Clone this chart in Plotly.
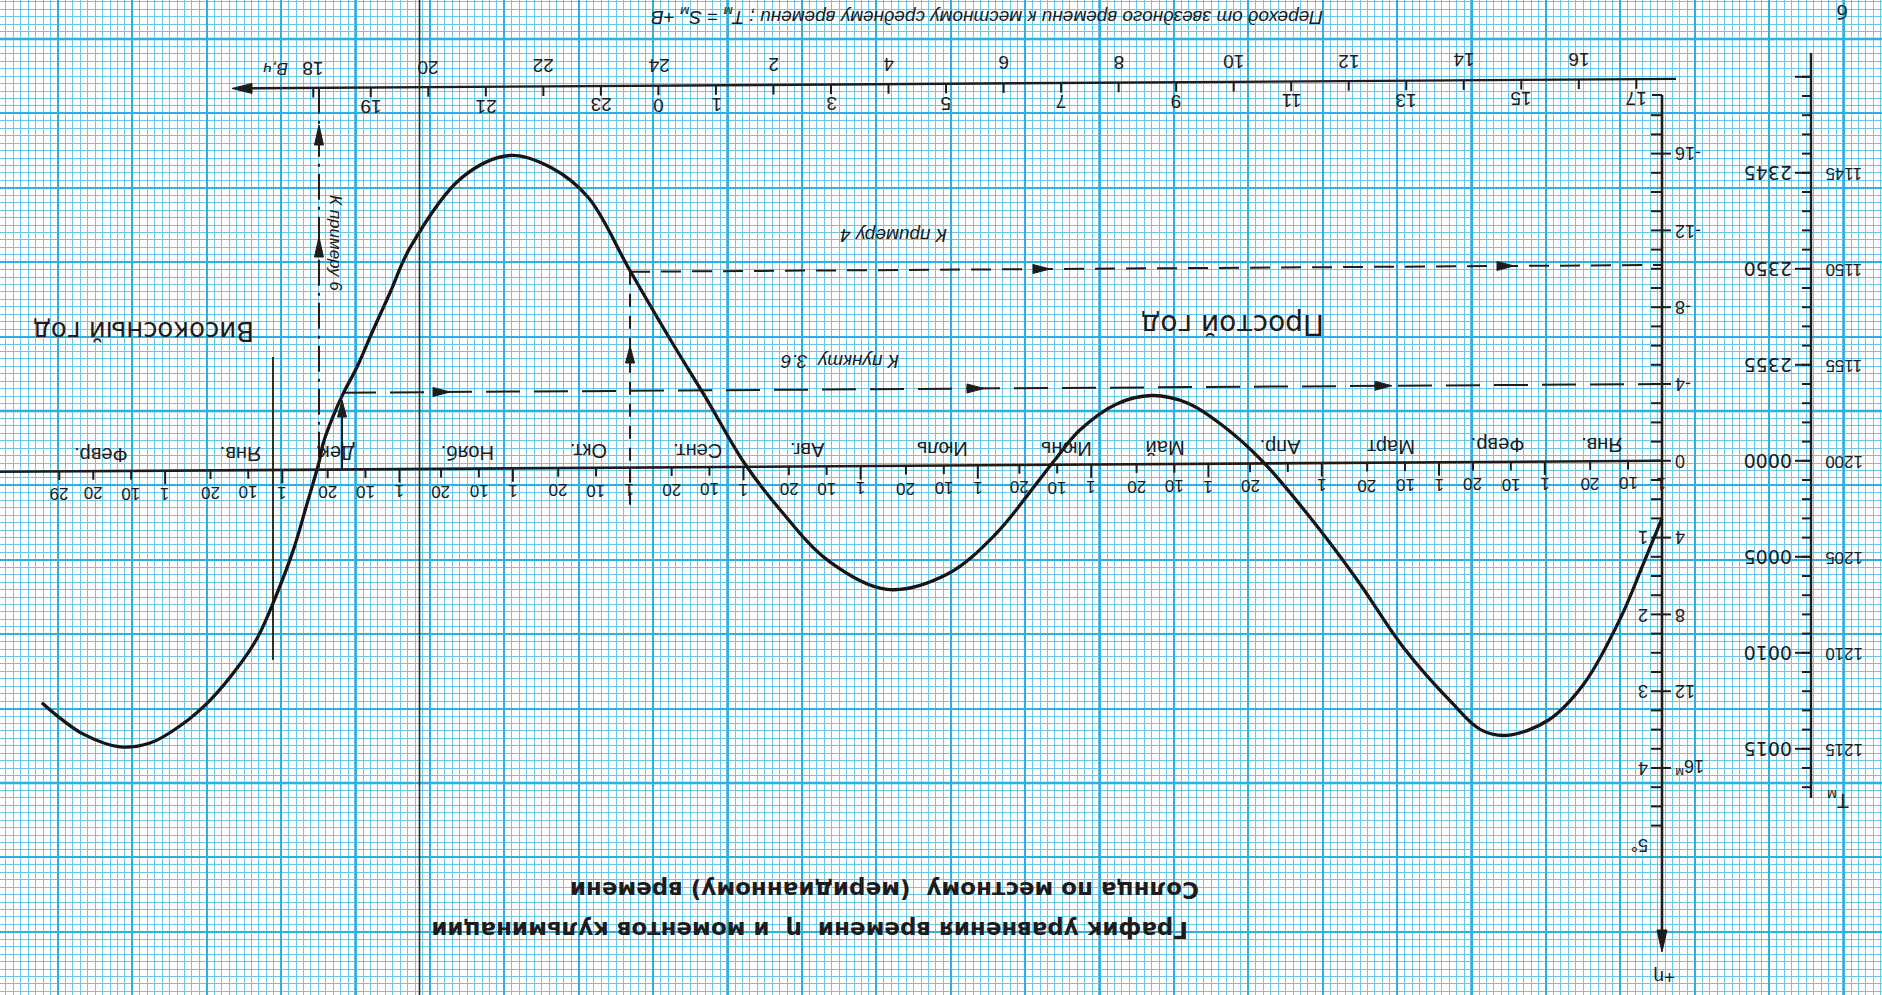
import plotly.graph_objects as go

W, H = 1882, 995

# ---------------- values ----------------
# day number: 0 = 1 January; 365.. = January/February of a leap year (left part)
curve_day = [0, 5, 11, 20.6, 30, 41, 48, 55.6, 68.3, 81, 93.7, 105.8, 116, 125.4, 135,
             144.4, 154, 160.8, 166.7, 176.2, 189, 205, 220.6, 233.3, 243, 252.4, 262,
             273, 284, 293.7, 304.8, 317.5, 331.2, 336.5, 341, 345.2, 348.9, 351.6,
             354.2, 355.2, 358.7, 362, 367, 371.4, 376.2, 384, 392, 400, 408, 417.5,
             423.8, 428.6]
# equation of time η, minutes (positive downwards on the sheet)
curve_eta = [3.0, 5.4, 8.2, 11.6, 13.5, 14.3, 14.0, 12.6, 9.75, 6.1, 2.8, 0.0, -1.8,
             -3.0, -3.4, -2.95, -1.6, 0.0, 1.5, 3.8, 5.9, 6.7, 5.2, 2.55, 0.05, -3.1,
             -6.2, -9.9, -13.7, -15.25, -15.9, -14.75, -11.1, -8.75, -6.8, -4.9, -3.5,
             -2.3, -0.9, 0.0, 2.4, 4.6, 7.2, 9.15, 10.6, 12.45, 13.8, 14.7, 14.9, 14.25,
             13.4, 12.6]

month_names = ["Янв.", "Февр.", "Март", "Апр.", "Май", "Июнь", "Июль", "Авг.", "Сент.",
               "Окт.", "Нояб.", "Дек.", "Янв.", "Февр."]
month_label_day = [15.9, 43.6, 71.7, 101, 131.5, 157.7, 190.5, 226, 255, 284, 316, 351,
                   376, 413]
month_start_day = [0, 31, 59, 90, 120, 151, 181, 212, 243, 273, 304, 334, 365, 396]
month_day_marks = [1, 10, 20]
hidden_date_labels = [(90, 10)]          # "10" of April is hidden by the curve
leap_end_day, leap_end_label = 424, "29"

# sidereal correction B (hours) on the upper scale
B_hours_above = [18, 20, 22, 24, 2, 4, 6, 8, 10, 12, 14, 16]
B_hours_below = [19, 21, 23, 0, 1, 3, 5, 7, 9, 11, 13, 15, 17]
B_zero_day = 265.5                       # B = 0 h (24 h) at 22-23 September
B_days_per_hour = 365.24 / 24

eta_right_vals = [-16, -12, -8, -4, 0, 4, 8, 12, 16]
eta_right_text = ["-16", "-12", "-8", "-4", "0", "4", "8", "12", "16<sup>м</sup>"]
deg_vals = [4, 8, 12, 16, 20]
deg_text = ["1", "2", "3", "4", "5°"]

tm_vals = [-15, -10, -5, 0, 5, 10, 15]
tm_lower = ["2345", "2350", "2355", "0000", "0005", "0010", "0015"]
tm_upper = ["1145", "1150", "1155", "1200", "1205", "1210", "1215"]

ex4_day, ex4_eta = 273, -10.2            # "К примеру 4"
p36_day, p36_eta = 349.2, -4.0           # "К пункту 3.6"
ex6_day = 355.3                          # "К примеру 6"

# ---------------- sheet geometry (pixels of the scan) ----------------
AXIS_X_PX = 1662.0
DAY_PX = 3.78
ZERO_Y_PX = 460.8
MIN_PX = 19.2
TILT = 0.0013          # min per day, the sheet is scanned slightly askew


def d_px(p):
    return (AXIS_X_PX - p) / DAY_PX


def e_px(p):
    return (p - ZERO_Y_PX) / MIN_PX


def tilt(d):
    return TILT * d


X_RANGE = [d_px(0), d_px(W)]
Y_RANGE = [e_px(H), e_px(0)]

GRID_PX = 74.4
GRID_X0_PX, GRID_Y0_PX = 58.0, 39.0

INK = "#1c1c1c"
SANS = "Liberation Sans, Arial, sans-serif"
DJV = "DejaVu Sans, sans-serif"

fig = go.Figure()
annotations = []
shapes = []


def ann(x, y, text, size, xref="x", yref="y", angle=180, xanchor="center",
        yanchor="middle", family=SANS, color=INK):
    annotations.append(dict(x=x, y=y, xref=xref, yref=yref, text=text, showarrow=False,
                            textangle=angle, xanchor=xanchor, yanchor=yanchor,
                            font=dict(family=family, size=size, color=color)))


def head(x, y, direction, length=17, half=4.5):
    """filled arrow head with its tip at data point (x, y); sizes in pixels"""
    L, h = length, half
    paths = {
        "up": f"M0,0 L{-h},{-L} L{h},{-L} Z",
        "down": f"M0,0 L{-h},{L} L{h},{L} Z",
        "right": f"M0,0 L{-L},{-h} L{-L},{h} Z",
        "left": f"M0,0 L{L},{-h} L{L},{h} Z",
    }
    shapes.append(dict(type="path", xref="x", yref="y", xsizemode="pixel",
                       ysizemode="pixel", xanchor=x, yanchor=y, path=paths[direction],
                       fillcolor=INK, line=dict(color=INK, width=1), layer="above"))


def seg_trace(xs, ys, width=2.0, dash="solid", color=INK):
    fig.add_trace(go.Scatter(x=xs, y=ys, mode="lines", hoverinfo="skip",
                             line=dict(color=color, width=width, dash=dash)))


# ---------- thick 5 cm lines of the graph paper ----------
for k in range(-1, 27):
    if k % 5 == 4:
        xd = d_px(GRID_X0_PX + GRID_PX * k)
        shapes.append(dict(type="line", xref="x", yref="paper", x0=xd, x1=xd, y0=0, y1=1,
                           layer="below", line=dict(color="#1ea3da", width=2.6)))
    if k % 5 == 0 and 0 <= k <= 14:
        ye = e_px(GRID_Y0_PX + GRID_PX * k)
        shapes.append(dict(type="line", xref="paper", yref="y", x0=0, x1=1, y0=ye, y1=ye,
                           layer="below", line=dict(color="#1ea3da", width=2.6)))

# paper seam
shapes.append(dict(type="line", xref="paper", yref="paper", x0=415 / W, x1=415 / W, y0=0,
                   y1=1, layer="below", line=dict(color="white", width=4)))
shapes.append(dict(type="line", xref="paper", yref="paper", x0=419.5 / W, x1=419.5 / W,
                   y0=0, y1=1, layer="above", line=dict(color="#2a2a2a", width=1.6)))

# ---------- ticks ----------
tx, ty = [], []


def tick(x0, y0, x1, y1):
    tx.extend([x0, x1, None])
    ty.extend([y0, y1, None])


date_ticks = []
for s in month_start_day:
    for m in month_day_marks:
        date_ticks.append((s, m))
for s, m in date_ticks:
    d = s + m - 1
    ln = 0.7 if m == 1 else 0.45
    tick(d, tilt(d), d, tilt(d) + ln)
tick(leap_end_day, tilt(leap_end_day), leap_end_day, tilt(leap_end_day) + 0.45)

ETA_B = e_px(79)


def b_day(h):
    return B_zero_day + (24 - h) * B_days_per_hour if h >= 18 else B_zero_day - h * B_days_per_hour


for h in B_hours_above + B_hours_below:
    if h == 24:
        continue
    d = b_day(h)
    tick(d, ETA_B + tilt(d), d, ETA_B + tilt(d) + 0.5)

for v in range(-18, 20):
    tick(0, v, d_px(1651), v)
for v in eta_right_vals:
    tick(0, v, d_px(1671), v)
tick(0, e_px(95), d_px(1652), e_px(95))

TM_D = d_px(1811)
for v in range(-20, 18):
    tick(TM_D, v, d_px(1802), v)
for v in tm_vals + [-20]:
    tick(TM_D, v, d_px(1795), v)

seg_trace(tx, ty, width=2.0)

# ---------- axes ----------
seg_trace([0, X_RANGE[0]], [tilt(0), tilt(X_RANGE[0])], width=2.6)       # time axis
bl, br = d_px(245), d_px(1676)
seg_trace([br, bl], [ETA_B + tilt(br), ETA_B + tilt(bl)], width=2.4)      # B axis
seg_trace([0, 0], [e_px(95), e_px(935)], width=2.6)                       # η axis
seg_trace([TM_D, TM_D], [e_px(53), e_px(798)], width=2.4)                 # Tm axis
jan_leap = d_px(273)
seg_trace([jan_leap, jan_leap], [e_px(357), e_px(660)], width=1.8)        # leap-year boundary

head(d_px(232), ETA_B + tilt(d_px(232)), "left", length=20, half=5)
head(0, e_px(952), "down", length=22, half=5)

# ---------- construction lines ----------
seg_trace([ex4_day, ex4_day], [ex4_eta + tilt(ex4_day), e_px(505)], width=2.0, dash="13px,9px")
seg_trace([ex4_day, 0], [ex4_eta + tilt(ex4_day), ex4_eta], width=2.0, dash="20px,11px")
head(ex4_day, e_px(346), "up")
for p in (1050, 1514):
    d = d_px(p)
    head(d, ex4_eta + tilt(d), "right")

seg_trace([p36_day, 0], [p36_eta + tilt(p36_day), p36_eta], width=2.0, dash="34px,14px")
seg_trace([p36_day, p36_day], [e_px(410), tilt(p36_day)], width=2.0)
head(p36_day, e_px(400), "up")
for p in (450, 984, 1392):
    d = d_px(p)
    head(d, p36_eta + tilt(d), "right")

seg_trace([ex6_day, ex6_day], [ETA_B + tilt(ex6_day), tilt(ex6_day)], width=2.0,
          dash="26px,7px,3px,7px")
for p in (125, 237):
    head(ex6_day, e_px(p), "up", length=20)

# ---------- the curve ----------
fig.add_trace(go.Scatter(x=curve_day, y=curve_eta, mode="lines", hoverinfo="skip",
                         line=dict(color="#151515", width=3.3, shape="spline",
                                   smoothing=1.0)))

# ---------- texts (the whole sheet is upside down) ----------
for name, d in zip(month_names, month_label_day):
    ann(d, -0.85 + tilt(d), name, 20)
for s, m in date_ticks:
    if (s, m) in hidden_date_labels:
        continue
    d = s + m - 1
    ann(d, 1.15 + tilt(d), str(m), 17)
ann(leap_end_day, 1.15 + tilt(leap_end_day), leap_end_label, 17)

for h in B_hours_above:
    d = b_day(h)
    ann(d, ETA_B + tilt(d) - 1.05, str(h), 19)
for h in B_hours_below:
    d = b_day(h)
    ann(d, ETA_B + tilt(d) + 1.0, str(h), 19)
ann(d_px(276), ETA_B + tilt(d_px(276)) - 1.05, "<i>B,ч</i>", 17)

for v, t in zip(eta_right_vals, eta_right_text):
    ann(d_px(1673), v, t, 18, xanchor="left")
for v, t in zip(deg_vals, deg_text):
    ann(d_px(1650), v, t, 18, xanchor="right")
for v, lo, up in zip(tm_vals, tm_lower, tm_upper):
    ann(d_px(1794), v, lo, 19, xanchor="right", family=DJV)
    ann(d_px(1823), v, up, 17, xanchor="left")

ann(d_px(1664), e_px(978), "+η", 19)
ann(d_px(1838), e_px(800), "T<sub>м</sub>", 20)
ann(1843 / W, 1 - 12 / H, "б", 20, xref="paper", yref="paper")

ann(987 / W, 1 - 16 / H,
    "<i>Переход от звездного времени к местному среднему времени ; "
    "T<sub>м</sub> = S<sub>м</sub> +B</i>", 19, xref="paper", yref="paper")
ann(810 / W, 1 - 930 / H, "<b>График уравнения времени  η  и моментов кульминации</b>",
    23, xref="paper", yref="paper", family=DJV)
ann(885 / W, 1 - 890 / H, "<b>Солнца по местному  (меридианному) времени</b>",
    23, xref="paper", yref="paper", family=DJV)
ann(144 / W, 1 - 331 / H, "Високосный год", 26, xref="paper", yref="paper", family=DJV)
ann(1233 / W, 1 - 324 / H, "Простой год", 28, xref="paper", yref="paper", family=DJV)
ann(894 / W, 1 - 236 / H, "<i>К примеру 4</i>", 19, xref="paper", yref="paper")
ann(840 / W, 1 - 362 / H, "<i>К пункту  3.6</i>", 19, xref="paper", yref="paper")
ann(336 / W, 1 - 243 / H, "<i>К примеру 6</i>", 17, xref="paper", yref="paper", angle=90)

# ---------- layout: the millimetre paper is drawn by the axis grids ----------
gx = GRID_PX / DAY_PX
gy = GRID_PX / MIN_PX
fig.update_layout(
    width=W, height=H, margin=dict(l=0, r=0, t=0, b=0),
    paper_bgcolor="white", plot_bgcolor="white", showlegend=False, hovermode=False,
    annotations=annotations, shapes=shapes,
    xaxis=dict(range=X_RANGE, showticklabels=False, ticks="", zeroline=False,
               showline=False, showgrid=True, tick0=d_px(GRID_X0_PX), dtick=gx,
               gridcolor="#2fb0e2", gridwidth=1.8,
               minor=dict(tick0=d_px(GRID_X0_PX), dtick=gx / 10, showgrid=True,
                          gridcolor="#6cc7ec", gridwidth=1, ticks="")),
    yaxis=dict(range=Y_RANGE, showticklabels=False, ticks="", zeroline=False,
               showline=False, showgrid=True, tick0=e_px(GRID_Y0_PX), dtick=gy,
               gridcolor="#2fb0e2", gridwidth=1.8,
               minor=dict(tick0=e_px(GRID_Y0_PX), dtick=gy / 10, showgrid=True,
                          gridcolor="#6cc7ec", gridwidth=1, ticks="")),
)

fig.write_html("out.html", config={"displayModeBar": False},
               post_script="document.body.style.margin='0px';"
                           "document.body.style.overflow='hidden';")
